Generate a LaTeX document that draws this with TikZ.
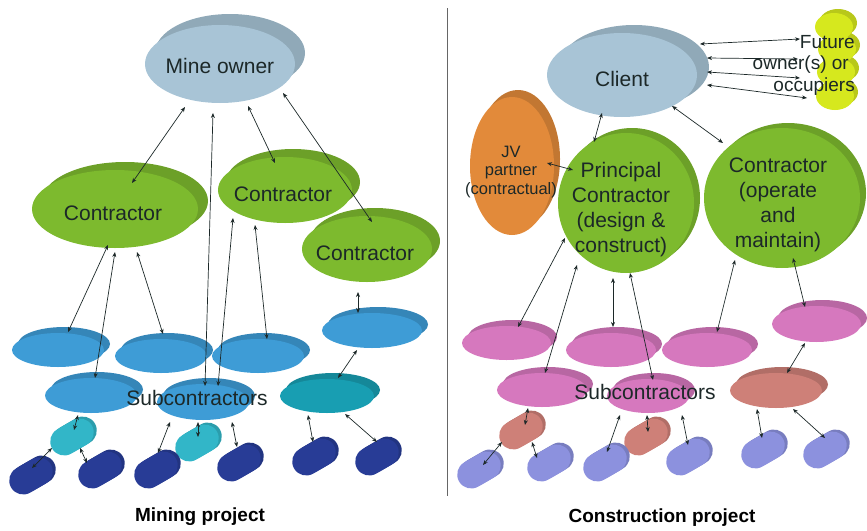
\documentclass[tikz,border=0pt]{standalone}
\usepackage{fontspec}
\setmainfont{Liberation Sans}
\usetikzlibrary{shapes.geometric,arrows.meta,calc}

\definecolor{ink}{RGB}{28,40,40}
\definecolor{owner}{RGB}{168,196,214}
\definecolor{leaf}{RGB}{125,186,46}
\definecolor{subblue}{RGB}{62,156,214}
\definecolor{deepteal}{RGB}{24,158,178}
\definecolor{liteteal}{RGB}{50,182,200}
\definecolor{navy}{RGB}{40,60,150}
\definecolor{rose}{RGB}{214,120,190}
\definecolor{salmon}{RGB}{206,128,120}
\definecolor{lavender}{RGB}{140,145,222}
\definecolor{amber}{RGB}{226,138,58}
\definecolor{lime}{RGB}{214,232,30}

\tikzset{
  lbl/.style={font=\fontsize{21}{25}\selectfont, text=ink, align=center, inner sep=0pt},
  smalllbl/.style={font=\fontsize{16.5}{18.5}\selectfont, text=ink, align=center, inner sep=0pt},
  sidelbl/.style={font=\fontsize{19}{22}\selectfont, text=ink, inner sep=0pt},
  caption/.style={font=\fontsize{19}{22}\selectfont\bfseries, text=black, inner sep=0pt},
  disk/.style={ellipse, inner sep=0pt, draw=none},
  capsule/.style={rectangle, rounded corners=14pt, minimum width=46pt,
                  minimum height=28pt, rotate=30, inner sep=0pt, draw=none},
  link/.style={{Stealth[length=5pt,width=4pt]}-{Stealth[length=5pt,width=4pt]},
               draw=ink, line width=0.7pt}
}

% a raised disk: darker rim behind, lighter face in front
% #1 name, #2 centre, #3 width, #4 height, #5 colour, #6 rim offset
\newcommand\mkdisk[6]{%
  \node[disk, minimum width=#3pt, minimum height=#4pt, fill=#5!86!black] at ($#2+#6$) {};
  \node[disk, minimum width=#3pt, minimum height=#4pt, fill=#5] (#1) at #2 {};}

% a small tilted capsule with its darker rim
% #1 name, #2 centre, #3 colour
\newcommand\mkcapsule[3]{%
  \node[capsule, fill=#3!86!black] at ($#2+(3,-2)$) {};
  \node[capsule, fill=#3] (#1) at #2 {};}

\begin{document}
\begin{tikzpicture}[x=1pt,y=-1pt]
\useasboundingbox (0,0) rectangle (867,530);

% ---------------- Mining project ----------------
\mkdisk{mo}{(220,64)}{150}{78}{owner}{(10,-11)}
\mkdisk{ca}{(115,209)}{166}{78}{leaf}{(10,-8)}
\mkdisk{cb}{(285,190)}{134}{66}{leaf}{(8,-8)}
\mkdisk{cc}{(367,249)}{130}{66}{leaf}{(8,-8)}

\mkdisk{la1}{(58,350)}{92}{34}{subblue}{(6,-6)}
\mkdisk{la2}{(161,356)}{92}{34}{subblue}{(6,-6)}
\mkdisk{la3}{(258,356)}{92}{34}{subblue}{(6,-6)}
\mkdisk{la4}{(372,330.5)}{100}{35}{subblue}{(6,-6)}
\mkdisk{lb1}{(91,395.5)}{92}{35}{subblue}{(6,-6)}
\mkdisk{lb2}{(203,402)}{92}{36}{subblue}{(6,-6)}
\mkdisk{lb3}{(327,396)}{94}{34}{deepteal}{(6,-6)}

\mkcapsule{lc1}{(72,437)}{liteteal}
\mkcapsule{lc2}{(197,443)}{liteteal}
\mkcapsule{ld1}{(31,476)}{navy}
\mkcapsule{ld2}{(100,470)}{navy}
\mkcapsule{ld3}{(156,470)}{navy}
\mkcapsule{ld4}{(239,463)}{navy}
\mkcapsule{ld5}{(314,457)}{navy}
\mkcapsule{ld6}{(377,457)}{navy}

\draw[link] ($(mo)+(-35,43)$) -- ($(ca)+(17,-26)$);
\draw[link] ($(mo)+(-7,49)$) -- ($(lb2)+(2,-16)$);
\draw[link] ($(mo)+(28,42)$) -- ($(cb)+(-10,-27)$);
\draw[link] ($(mo)+(63,29)$) -- ($(cc)+(5,-27)$);
\draw[link] ($(ca)+(-7,36)$) -- ($(la1)+(10,-18)$);
\draw[link] ($(ca)+(0,43)$) -- ($(lb1)+(4,-17.5)$);
\draw[link] ($(ca)+(22,43)$) -- ($(la2)+(2,-22)$);
\draw[link] ($(cb)+(-52,28)$) -- ($(lb2)+(15,-16)$);
\draw[link] ($(cb)+(-30,35)$) -- ($(la3)+(9,-17)$);
\draw[link] ($(cc)+(-9,43)$) -- ($(la4)+(-14,-17.5)$);
\draw[link] ($(la4)+(-15,19.5)$) -- ($(lb3)+(11,-18)$);
\draw[link] ($(lb1)+(-13,19.5)$) -- ($(lc1)+(2,-7)$);
\draw[link] ($(lc1)+(-20,11)$) -- ($(ld1)+(1,-8)$);
\draw[link] ($(lc1)+(8,11)$) -- ($(ld2)+(-13,-7)$);
\draw[link] ($(lb2)+(-33,20)$) -- ($(ld3)+(2,-17)$);
\draw[link] ($(lb2)+(-5,20)$) -- ($(lc2)+(1,-6)$);
\draw[link] ($(lb2)+(29,20)$) -- ($(ld4)+(-2,-16)$);
\draw[link] ($(lb3)+(-19,19)$) -- ($(ld5)+(-1,-15)$);
\draw[link] ($(lb3)+(18,18)$) -- ($(ld6)+(0,-15)$);

\node[lbl] (motxt) at ($(mo)+(0,2)$) {Mine owner};
\node[lbl] (catxt) at ($(ca)+(-2,4)$) {Contractor};
\node[lbl] (cbtxt) at ($(cb)+(-2,4)$) {Contractor};
\node[lbl] (cctxt) at ($(cc)+(-2,4)$) {Contractor};
\node[lbl] (lsub) at ($(lb2)+(-6,-4)$) {Subcontractors};
\node[caption] (mining) at (200,517) {Mining project};

% divider between the two halves
\draw[gray!80!black, line width=0.8pt] (447,8) -- (447,496);

% ---------------- Construction project ----------------
\mkdisk{fy4}{(835,96)}{38}{28}{lime}{(4,-4)}
\mkdisk{fy3}{(836,72)}{38}{28}{lime}{(4,-4)}
\mkdisk{fy2}{(837,49)}{38}{28}{lime}{(4,-4)}
\mkdisk{fy1}{(834,27)}{38}{28}{lime}{(4,-4)}
\coordinate (fo) at (836,62);

\mkdisk{cl}{(622,75)}{150}{84}{owner}{(12,-8)}
\mkdisk{jv}{(512,166)}{84}{138}{amber}{(6,-7)}
\mkdisk{pc}{(626,203)}{136}{140}{leaf}{(6,-5)}
\mkdisk{om}{(782,198)}{156}{140}{leaf}{(6,-5)}

\mkdisk{ra1}{(506.5,343)}{89}{34}{rose}{(6,-6)}
\mkdisk{ra2}{(611,350)}{90}{34}{rose}{(6,-6)}
\mkdisk{ra3}{(707,350)}{90}{34}{rose}{(6,-6)}
\mkdisk{ra4}{(816.5,324)}{89}{36}{rose}{(6,-6)}
\mkdisk{rb1}{(542,390)}{90}{34}{rose}{(6,-6)}
\mkdisk{rb2}{(648,396)}{82}{34}{rose}{(6,-6)}
\mkdisk{rb3}{(776,390.5)}{92}{35}{salmon}{(6,-6)}

\mkcapsule{rc1}{(521,431)}{salmon}
\mkcapsule{rc2}{(646,437)}{salmon}
\mkcapsule{rd1}{(479,470)}{lavender}
\mkcapsule{rd2}{(549,463)}{lavender}
\mkcapsule{rd3}{(605,463)}{lavender}
\mkcapsule{rd4}{(688,457)}{lavender}
\mkcapsule{rd5}{(763,450)}{lavender}
\mkcapsule{rd6}{(825,450)}{lavender}

\draw[link] ($(cl)+(78,-31)$) -- ($(fo)+(-36,-23)$);
\draw[link] ($(cl)+(85,-17)$) -- ($(fo)+(-38,-3)$);
\draw[link] ($(cl)+(85,-3)$) -- ($(fo)+(-36,16)$);
\draw[link] ($(cl)+(85,10)$) -- ($(fo)+(-29,36)$);
\draw[link] ($(cl)+(-20,38)$) -- ($(pc)+(-32,-61)$);
\draw[link] ($(cl)+(50,31)$) -- ($(om)+(-59,-55)$);
\draw[link] ($(jv)+(35,-3)$) -- ($(pc)+(-53,-33)$);
\draw[link] ($(pc)+(-61,35)$) -- ($(ra1)+(11.5,-16)$);
\draw[link] ($(pc)+(-49,62)$) -- ($(rb1)+(3,-17)$);
\draw[link] ($(pc)+(-13,75)$) -- ($(ra2)+(2,-23)$);
\draw[link] ($(pc)+(4,70)$) -- ($(rb2)+(5,-16)$);
\draw[link] ($(om)+(-47,62)$) -- ($(ra3)+(10,-18)$);
\draw[link] ($(om)+(11,60)$) -- ($(ra4)+(-11.5,-17)$);
\draw[link] ($(ra4)+(-11.5,19)$) -- ($(rb3)+(11,-17.5)$);
\draw[link] ($(rb1)+(-14,18)$) -- ($(rc1)+(4,-6)$);
\draw[link] ($(rc1)+(-19,11)$) -- ($(rd1)+(4,-5)$);
\draw[link] ($(rc1)+(11,11)$) -- ($(rd2)+(-12,-5)$);
\draw[link] ($(rb2)+(-28,19)$) -- ($(rd3)+(2,-11)$);
\draw[link] ($(rb2)+(-1,19)$) -- ($(rc2)+(2,-5)$);
\draw[link] ($(rb2)+(34,19)$) -- ($(rd4)+(0,-12)$);
\draw[link] ($(rb3)+(-19,18.5)$) -- ($(rd5)+(-1,-12)$);
\draw[link] ($(rb3)+(17,18.5)$) -- ($(rd6)+(0,-12)$);

\node[sidelbl, anchor=east] (fut1) at (855,42) {Future};
\node[sidelbl, anchor=east] (fut2) at (849,65) {owner(s) or};
\node[sidelbl, anchor=east] (fut3) at (855,87) {occupiers};
\node[lbl] (cltxt) at ($(cl)+(0,4)$) {Client};
\node[smalllbl] (jvtxt) at ($(jv)+(-1,6)$) {JV\\partner\\(contractual)};
\node[lbl] (pctxt) at ($(pc)+(-5,7)$) {Principal\\Contractor\\(design \&\\construct)};
\node[lbl] (omtxt) at ($(om)+(-4,7)$) {Contractor\\(operate\\and\\maintain)};
\node[lbl] (rsub) at ($(rb2)+(-3,-4)$) {Subcontractors};
\node[caption] (construction) at (662,518) {Construction project};
\end{tikzpicture}
\end{document}
